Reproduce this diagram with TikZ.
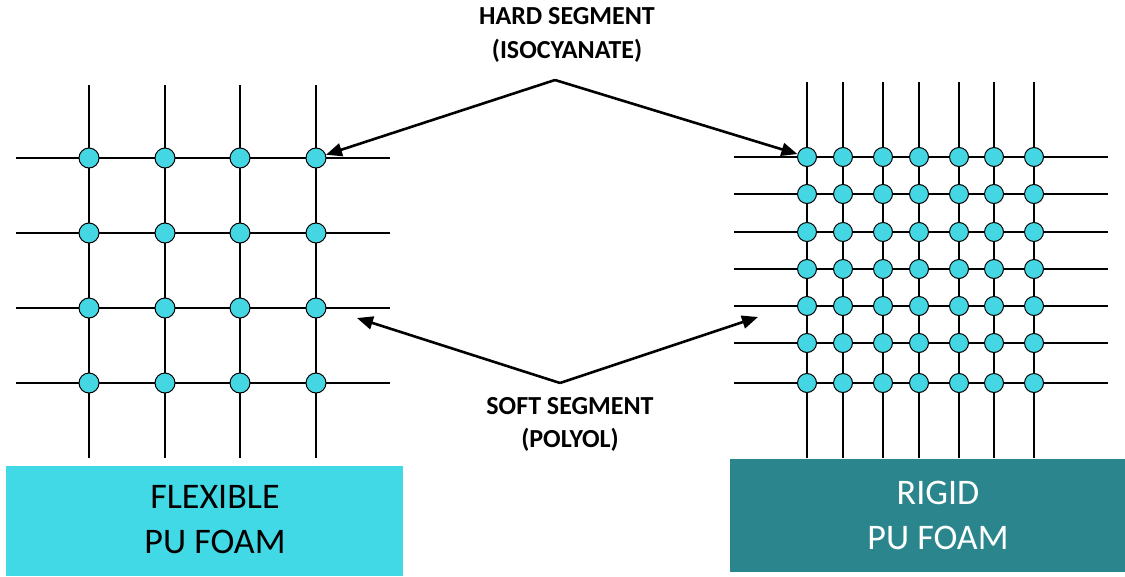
\documentclass[tikz,border=0pt]{standalone}
\usepackage{fontspec}
\setmainfont{Carlito}
\usepackage{tikz}
\usetikzlibrary{arrows.meta}
\usetikzlibrary{positioning}
\definecolor{flexcyan}{RGB}{66,217,230}
\definecolor{rigidteal}{RGB}{42,134,140}
\definecolor{beadcyan}{RGB}{68,215,227}

\begin{document}
\begin{tikzpicture}[x=1pt,y=-1pt]
		  \useasboundingbox (0,0) rectangle (1125,576);
		  % flexible foam: open 4x4 net
		  \foreach \x in {89,165,240,316}{
		  	\draw[line width=1.1pt] (\x,85) -- (\x,458);
		  }
		  \foreach \y in {158,233,308,383}{
		  	\draw[line width=1.1pt] (16,\y) -- (390,\y);
		  }
		  \foreach \x/\i in {89/1,165/2,240/3,316/4}%
		  {%
		  \foreach \y/\j in {158/1,233/2,308/3,383/4}%
		  {%
		   \node[circle,draw,line width=1pt,inner sep=0pt,minimum size=20pt,fill=beadcyan] (f\i\j) at (\x,\y) {};%
		  }}
		  % rigid foam: dense 7x7 net
		  \foreach \x in {807,843,883,919,959,994,1034}{
		  	\draw[line width=1.1pt] (\x,82) -- (\x,458);
		  }
		  \foreach \y in {157,194,232,269,306,343,383}{
		  	\draw[line width=1.1pt] (734,\y) -- (1108,\y);
		  }
		  \foreach \x/\i in {807/1,843/2,883/3,919/4,959/5,994/6,1034/7}%
		  {%
		  \foreach \y/\j in {157/1,194/2,232/3,269/4,306/5,343/6,383/7}%
		  {%
		   \node[circle,draw,line width=1pt,inner sep=0pt,minimum size=19pt,fill=beadcyan] (r\i\j) at (\x,\y) {};%
		  }}
		  % labels and pointers
		  \node[font=\bfseries\fontsize{26}{34}\selectfont,align=center] (hard) at (567,35) {HARD SEGMENT\\(ISOCYANATE)};
		  \node[font=\bfseries\fontsize{26}{33}\selectfont,align=center] (soft) at (570,424) {SOFT SEGMENT\\(POLYOL)};
		  \coordinate (hardpeak) at (555,80);
		  \coordinate (softpeak) at (560,383);
		  \coordinate (softl) at (357,318);
		  \coordinate (softr) at (758,317);
		  \draw[line width=2.6pt,-{Triangle[length=16pt,width=13pt]}] (hardpeak) -- (f41);
		  \draw[line width=2.6pt,-{Triangle[length=16pt,width=13pt]}] (hardpeak) -- (r11);
		  \draw[line width=2.6pt,-{Triangle[length=16pt,width=13pt]}] (softpeak) -- (softl);
		  \draw[line width=2.6pt,-{Triangle[length=16pt,width=13pt]}] (softpeak) -- (softr);
		  % foam type boxes
		  \node[fill=flexcyan,inner sep=0pt,minimum width=397pt,minimum height=110pt] (flexbox) at (204.5,521) {};
		  \node[font=\fontsize{36}{45}\selectfont,align=center] (flexname) at (215,519.5) {FLEXIBLE\\PU FOAM};
		  \node[fill=rigidteal,inner sep=0pt,minimum width=395pt,minimum height=113pt] (rigidbox) at (927.5,515.5) {};
		  \node[font=\fontsize{36}{45}\selectfont,align=center,text=white] (rigidname) at (938,515) {RIGID\\PU FOAM};
		 \end{tikzpicture}
\end{document}
